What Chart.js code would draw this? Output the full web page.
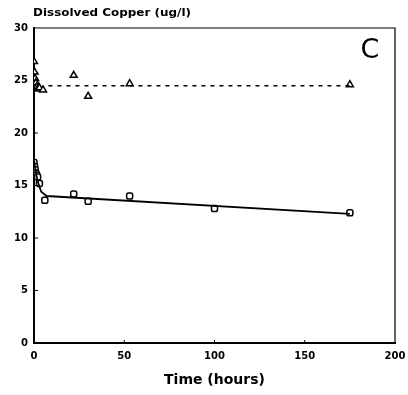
<!DOCTYPE html>
<html>
<head>
<meta charset="utf-8">
<script src="https://cdn.jsdelivr.net/npm/chart.js@4.4.1/dist/chart.umd.min.js"></script>
<style>
  html, body { margin: 0; padding: 0; background: #fff; }
  #wrap { width: 408px; height: 395px; }
</style>
</head>
<body>
<div id="wrap"><canvas id="c" width="408" height="395"></canvas></div>
<script>
// Sampling times (hours) and dissolved copper (ug/l)
const triTimes  = [0, 0.3, 0.6, 1, 1.5, 2, 3, 5, 22, 30, 53, 175];
const triValues = [26.8, 25.8, 25.2, 24.8, 24.4, 24.2, 24.3, 24.1, 25.5, 23.5, 24.7, 24.6];

const sqTimes  = [0, 0.3, 0.6, 1, 1.5, 2, 3, 6, 22, 30, 53, 100, 175];
const sqValues = [17.2, 16.8, 16.5, 16.2, 16.0, 15.8, 15.2, 13.6, 14.2, 13.5, 14.0, 12.8, 12.4];

// Mean level of the triangle series (dashed)
const meanTimes  = [8, 175];
const meanValues = [24.5, 24.5];

// Fitted decline of the square series (solid)
const fitTimes  = [0, 1, 2, 4, 7, 175];
const fitValues = [17.4, 16.3, 15.4, 14.4, 14.0, 12.3];

const xTicks = [0, 50, 100, 150, 200];
const yTicks = [0, 5, 10, 15, 20, 25, 30];

const chartTitle = 'Dissolved Copper (ug/l)';
const xTitle = 'Time (hours)';
const panelLabel = 'C';

const pts = (xs, ys) => xs.map((x, i) => ({ x: x, y: ys[i] }));

const FONT = '"DejaVu Sans", "Liberation Sans", sans-serif';

// Frame, inward ticks and captions
const decor = {
  id: 'decor',
  afterDraw(chart) {
    const ctx = chart.ctx;
    const a = chart.chartArea;
    const xs = chart.scales.x, ys = chart.scales.y;
    ctx.save();
    ctx.strokeStyle = '#000';
    // thin top and right edges
    ctx.lineWidth = 1.2;
    ctx.beginPath();
    ctx.moveTo(a.left, a.top);
    ctx.lineTo(a.right, a.top);
    ctx.lineTo(a.right, a.bottom);
    ctx.stroke();
    // inward tick marks
    ctx.lineWidth = 1;
    ctx.beginPath();
    yTicks.slice(1, -1).forEach(v => {
      const y = ys.getPixelForValue(v);
      ctx.moveTo(a.left, y); ctx.lineTo(a.left + 4, y);
    });
    xTicks.slice(1, -1).forEach(v => {
      const x = xs.getPixelForValue(v);
      ctx.moveTo(x, a.bottom); ctx.lineTo(x, a.bottom - 3);
    });
    ctx.stroke();
    // heading, widened to the heavy print face
    ctx.fillStyle = '#000';
    ctx.font = 'bold 10px ' + FONT;
    ctx.textAlign = 'left';
    ctx.textBaseline = 'alphabetic';
    const w = ctx.measureText(chartTitle).width;
    ctx.save();
    ctx.translate(a.left - 1, 16);
    ctx.scale(158 / w, 1);
    ctx.fillText(chartTitle, 0, 0);
    ctx.restore();
    // panel letter
    ctx.font = '27px ' + FONT;
    ctx.textAlign = 'center';
    ctx.textBaseline = 'middle';
    ctx.fillText(panelLabel, 370, 51);
    ctx.restore();
  }
};

new Chart(document.getElementById('c'), {
  type: 'scatter',
  data: {
    datasets: [
      {
        data: pts(meanTimes, meanValues),
        showLine: true,
        borderColor: '#000',
        borderWidth: 1.5,
        borderDash: [4, 5],
        pointRadius: 0
      },
      {
        data: pts(fitTimes, fitValues),
        showLine: true,
        borderColor: '#000',
        borderWidth: 1.8,
        pointRadius: 0
      },
      {
        data: pts(triTimes, triValues),
        pointStyle: 'triangle',
        pointRadius: 4,
        backgroundColor: '#fff',
        borderColor: '#000',
        borderWidth: 1.5
      },
      {
        data: pts(sqTimes, sqValues),
        pointStyle: 'rectRounded',
        pointRadius: 3.5,
        backgroundColor: '#fff',
        borderColor: '#000',
        borderWidth: 1.5
      }
    ]
  },
  options: {
    responsive: false,
    animation: false,
    layout: { padding: { left: 0, right: 13, top: 28, bottom: 0 } },
    plugins: { legend: { display: false }, tooltip: { enabled: false }, title: { display: false } },
    scales: {
      x: {
        type: 'linear',
        min: 0, max: 200,
        afterBuildTicks: s => { s.ticks = xTicks.map(v => ({ value: v })); },
        afterFit: s => { s.height = 52; s.paddingLeft = 0; s.paddingRight = 0; },
        grid: { display: false, drawTicks: false },
        border: { display: true, color: '#000', width: 2 },
        ticks: {
          color: '#000',
          font: { family: FONT, size: 10, weight: 'bold' },
          padding: 7,
          maxRotation: 0
        },
        title: {
          display: true,
          text: xTitle,
          color: '#000',
          font: { family: FONT, size: 14, weight: 'bold' },
          padding: { top: 4, bottom: 6 }
        }
      },
      y: {
        type: 'linear',
        min: 0, max: 30,
        afterBuildTicks: s => { s.ticks = yTicks.map(v => ({ value: v })); },
        afterFit: s => { s.width = 34; s.paddingTop = 0; s.paddingBottom = 0; },
        grid: { display: false, drawTicks: false },
        border: { display: true, color: '#000', width: 2 },
        ticks: {
          color: '#000',
          font: { family: FONT, size: 10, weight: 'bold' },
          padding: 6
        }
      }
    }
  },
  plugins: [decor]
});
</script>
</body>
</html>
